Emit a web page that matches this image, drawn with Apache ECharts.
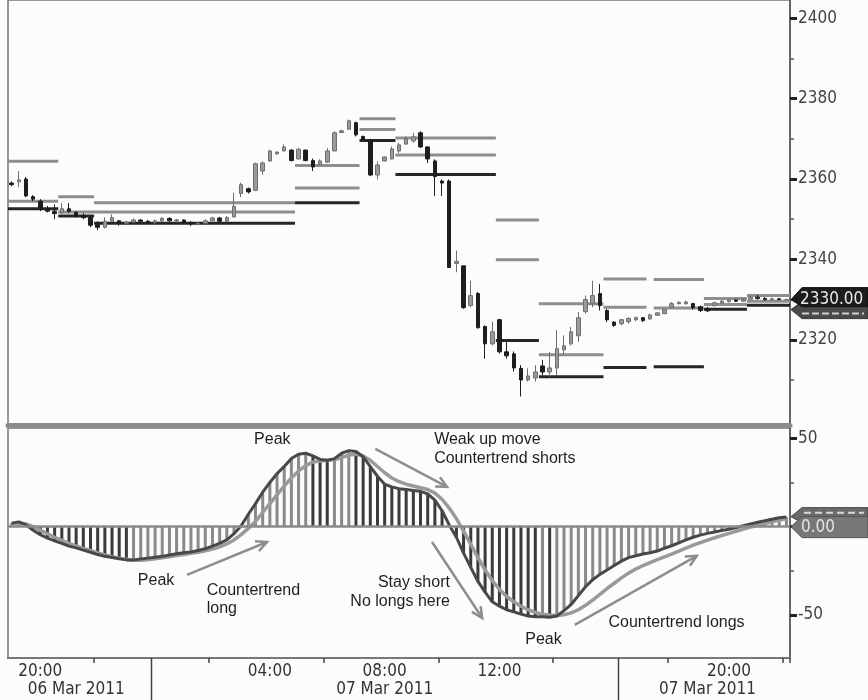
<!DOCTYPE html>
<html><head><meta charset="utf-8">
<script src="https://cdn.jsdelivr.net/npm/echarts@6/dist/echarts.min.js"></script>
<style>html,body{margin:0;padding:0;background:#fcfcfc}#c{width:868px;height:700px}</style>
</head><body><div id="c"></div>
<script>
// ---------- DATA ----------
// 15-minute bars from 06 Mar 2011 19:00 to 07 Mar 2011 22:00
const categories = [];
for (let i = 0; i < 109; i++) {
  const m = 19 * 60 + 15 * i;
  const day = 6 + Math.floor(m / 1440);
  const hh = Math.floor((m % 1440) / 60), mm = m % 60;
  categories.push('2011-03-0' + day + ' ' + String(hh).padStart(2, '0') + ':' + String(mm).padStart(2, '0'));
}
const timeLabels = ['20:00', '04:00', '08:00', '12:00'];
const timeTicks = ['22:00', '02:00', '06:00', '10:00', '14:00', '18:00'];
const sessionBreaks = ['2011-03-07 00:00', '2011-03-07 16:15'];
const dateLabels = {'2011-03-06 21:15': '06 Mar 2011', '2011-03-07 08:00': '07 Mar 2011', '2011-03-07 19:15': '07 Mar 2011'};
const priceLabels = [2320, 2340, 2360, 2380, 2400];
const priceMinor = [2310, 2330, 2350, 2370, 2390];
const oscLabels = [-50, 50];
const oscMajor = [-50, 0, 50];
const oscMinor = [-25, 25];
const lastPrice = 2330.00;
const lastOsc = 0.00;

// [open, close, low, high]
const candles = [
[2359,2358.6,2358.2,2359.4],[2359.3,2359.8,2358,2362],[2360,2355.8,2355.5,2360.5],[2355.6,2355,2354.5,2356],
[2354.5,2352.5,2352,2355],[2352.6,2352,2351.7,2353.3],[2352,2351.4,2350,2353.7],[2351.6,2352.6,2351.3,2354],
[2352.6,2352,2351.5,2354],[2351.7,2350.8,2350.4,2352],[2350.9,2350.4,2350,2351.5],[2350.4,2348.5,2348,2350.8],
[2348.6,2348,2347.3,2349.5],[2348,2349.5,2347.7,2350.5],[2349.5,2350.4,2349.2,2351.2],[2349.6,2349,2348.4,2349.8],
[2349,2349.3,2348.8,2349.6],[2349.3,2349.8,2349,2350.2],[2349.8,2349.5,2349.1,2350],[2349.5,2349.2,2348.9,2349.8],
[2349.2,2349.6,2348.8,2349.9],[2349.6,2350.2,2349.3,2350.5],[2350.2,2349.6,2349.4,2350.5],[2349.6,2349.8,2349.2,2350.1],
[2349.8,2349.2,2348.8,2350],[2349.2,2348.8,2348.3,2349.5],[2348.8,2349,2348.5,2349.3],[2349,2349.6,2348.8,2350],
[2349.6,2350.3,2349.4,2350.6],[2350.3,2349.5,2349.2,2350.6],[2349.5,2350.4,2349.3,2350.8],[2350.6,2353.2,2350.4,2356.6],
[2356.4,2358.6,2355.5,2359.1],[2357.6,2356.8,2356.4,2357.9],[2357.2,2363.8,2357,2364.1],[2362,2364,2361.1,2364.4],
[2364.5,2367,2364.3,2367.3],[2366.3,2366.7,2366,2366.9],[2367,2368,2366.9,2368.6],[2367.2,2364.6,2364.4,2367.4],
[2365,2367.4,2364.9,2367.8],[2367.2,2364.6,2364.4,2367.3],[2364.6,2363,2362,2365.1],[2363.6,2364.5,2363.4,2364.9],
[2364.2,2367,2364,2367.7],[2367,2371.5,2366.9,2371.9],[2371.6,2372,2371.4,2372.3],[2372.4,2374.5,2372.3,2374.8],
[2374,2371,2370.6,2374.3],[2370.6,2369.8,2369.4,2370.8],[2369.8,2361,2360.7,2370],[2361,2363.5,2359.9,2364.4],
[2364.5,2365.5,2364.4,2365.7],[2365,2367.5,2364.9,2368.1],[2367,2368.5,2366.5,2369],[2368.7,2370,2368.6,2370.6],
[2369.5,2370.5,2369,2371.5],[2371.5,2368,2367.7,2371.9],[2368,2365,2364,2368.1],[2364.5,2360.6,2355.8,2364.9],
[2359.5,2359,2355.8,2359.9],[2359.5,2338,2338,2359.9],[2339,2339.5,2336.8,2342.2],[2338.4,2328,2327.7,2338.4],
[2328.5,2331,2328.1,2334.7],[2331.5,2323,2322.8,2331.9],[2323.3,2319,2315.3,2323.6],[2319,2322,2318.6,2324.5],
[2325,2317,2316.6,2325.2],[2317,2316,2315.3,2319.5],[2316.5,2313,2312.1,2317.1],[2312.9,2310,2305.9,2313.7],
[2310,2311,2309.6,2312.9],[2310.5,2312,2309.6,2313.7],[2313.5,2312,2311.2,2315],[2312,2313,2310.8,2317],
[2313,2317.8,2311.2,2322.4],[2317.5,2318.5,2316.2,2321.1],[2319,2322,2318.6,2323.2],[2321,2325.5,2319.5,2326.9],
[2327,2330,2326.5,2331],[2329,2331,2328.1,2334.7],[2331.5,2328.5,2327.3,2333.9],[2327.3,2325,2324.4,2327.7],
[2324.4,2323.6,2323.2,2324.6],[2324,2325,2323.6,2325.2],[2324.5,2325.3,2324,2325.6],[2325,2325.5,2324.6,2325.8],
[2325.5,2324.8,2324.4,2325.6],[2325.2,2326.2,2325,2326.5],[2326.1,2326.7,2326,2326.9],[2326.5,2327.5,2326.4,2327.7],
[2328.1,2329,2328,2329.4],[2329,2329.3,2328.8,2329.6],[2329,2329.4,2328.7,2329.7],[2329,2328,2327.5,2329.2],
[2328.2,2327.3,2326.9,2328.5],[2327.8,2327.2,2326.9,2328.2],[2328.5,2329.2,2328.3,2329.5],[2329.2,2329.6,2329,2329.9],
[2329.5,2329.9,2329.3,2330.1],[2329.9,2329.6,2329.4,2330.2],[2329.6,2330.1,2329.5,2330.4],[2330.1,2330.6,2330,2331],
[2330.6,2330.3,2330,2331.2],[2330.3,2330,2329.8,2330.6],[2330,2330.2,2329.8,2330.5],[2330.2,2330,2329.9,2330.4],
[2330,2330,2329.9,2330.2]
];

// reference levels [firstBar, lastBar, price]
const levelsGray = [
[0,6,2364.4],[0,6,2354.5],[7,11,2355.6],[7,39,2351.8],[12,39,2354.1],
[40,48,2363.4],[40,48,2357.8],[49,53,2375],[49,53,2372.3],[54,67,2370.2],[54,67,2366],
[68,73,2349.8],[68,73,2339.9],[74,82,2329],[74,82,2316.3],[83,88,2335.1],[83,88,2328.1],
[90,96,2335],[90,96,2327.9],[97,102,2330.3],[97,102,2328.8],[103,108,2331],[103,108,2329.6]
];
const levelsDark = [
[0,6,2352.6],[7,11,2350.8],[12,39,2349],[40,48,2354.1],[49,53,2369.6],[54,67,2361.1],
[68,73,2319.8],[74,82,2310.8],[83,88,2313.1],[90,96,2313.3],[97,102,2327.6],[103,108,2328.6]
];

const osc = [
2,2.7,1,-2,-4.5,-6.5,-8,-9.5,-11,-12,-13.3,-14.5,-15.8,-16.8,-17.5,-18.2,-18.8,-18.8,-18.3,-17.8,
-17.3,-16.8,-16,-15.3,-14.8,-14.3,-13.5,-12.5,-11,-9.5,-7.5,-4,0.5,7,13,19.5,25,30,34,38.5,
41,41.5,40,38,37.5,38.5,41.5,43,42.5,39.5,34,28.5,24,22.5,21.5,21,20.5,20,18.5,15,
9,1,-6,-15,-23,-31,-37,-42.5,-45,-47,-48.2,-49.5,-50.5,-51,-51,-51.2,-50.5,-47.5,-44,-39,
-34,-30,-27,-24.5,-22,-19.5,-17.5,-16.5,-15.5,-14.8,-13.8,-12.2,-10.8,-9.2,-7.5,-6,-4.8,-3.8,-3,-2.2,
-1.5,-0.5,0.5,1.5,2.5,3.3,4.2,5,5.5
];
const signal = [
1.5,2,1.5,0,-2,-4,-6,-7.8,-9.5,-11,-12.3,-13.5,-14.8,-16,-17,-17.8,-18.5,-19,-19,-18.7,
-18.2,-17.6,-17,-16.3,-15.7,-15.1,-14.5,-13.7,-12.7,-11.4,-9.8,-7.5,-4.5,-1,3,8,13,18,23,27.5,
31.5,34.5,36.5,37.2,37.5,38,39,40.5,41,40,37.5,34,30.5,27.5,25.5,24,23,22,21,19,
15.5,10.5,4.5,-2.5,-10,-17.5,-24.5,-30.5,-35.5,-39.5,-42.5,-45,-47,-48.5,-49.5,-50,-50.2,-49.8,-48.8,-47,
-44.5,-41.5,-38.3,-35,-32,-29,-26.3,-24,-22,-20.3,-18.7,-17.1,-15.5,-13.9,-12.2,-10.5,-9,-7.6,-6.3,-5,
-3.8,-2.6,-1.4,-0.3,0.8,1.8,2.8,3.8,4.6
];

// annotations in (bar, oscillator value) coordinates
const notes = [
['Peak', 33.8, 49.1, 'left'],
['Weak up move', 58.9, 49.1, 'left'],
['Countertrend shorts', 58.9, 38.3, 'left'],
['Peak', 17.6, -30.7, 'left'],
['Countertrend', 27.2, -36.4, 'left'],
['long', 27.2, -46.6, 'left'],
['Stay short', 61.1, -31.9, 'right'],
['No longs here', 61.1, -42.6, 'right'],
['Peak', 71.6, -64.1, 'left'],
['Countertrend longs', 83.2, -54.5, 'left']
];
const arrows = [
[24.45, -27.3, 35.6, -8.7],
[50.7, 44, 60.7, 22.5],
[58.6, -8.7, 65.6, -51.7],
[78.5, -55.6, 95.5, -16.5]
];

// ---------- CHART ----------
const W = 868, H = 700;
const G = {left: 8, right: 78};
const AX_FONT = '"DejaVu Sans Condensed", "DejaVu Sans", sans-serif';
const chart = echarts.init(document.getElementById('c'), null, {width: W, height: H});
const plain = function (v) { return String(v); };

function levelSeries(list, color) {
  return {
    type: 'custom', xAxisIndex: 0, yAxisIndex: 0, z: 1,
    encode: {x: [0, 1], y: 2},
    data: list,
    renderItem: function (params, api) {
      const s = api.value(0), e = api.value(1), v = api.value(2);
      const p1 = api.coord([s, v]), p2 = api.coord([e, v]);
      const bw = api.size([1, 0])[0];
      return {type: 'line', shape: {x1: p1[0] - bw / 2, y1: p1[1], x2: p2[0] + bw / 2, y2: p2[1]},
        style: {stroke: color, lineWidth: 3}};
    }
  };
}

const option = {
  animation: false,
  backgroundColor: '#fcfcfc',
  grid: [
    {left: G.left, right: G.right, top: 0, height: 425, show: true, borderColor: '#777', borderWidth: 1.5, backgroundColor: 'transparent', outerBoundsMode: 'none'},
    {left: G.left, right: G.right, top: 428, height: 230, show: true, borderColor: '#777', borderWidth: 1.5, backgroundColor: 'transparent', outerBoundsMode: 'none'}
  ],
  xAxis: [
    {type: 'category', gridIndex: 0, data: categories, position: 'bottom', boundaryGap: true,
      axisLine: {show: true, onZero: false, lineStyle: {color: '#8c8c8c', width: 5}},
      axisTick: {show: false}, axisLabel: {show: false}, splitLine: {show: false}},
    {type: 'category', gridIndex: 1, data: categories, position: 'bottom', boundaryGap: true,
      axisLine: {show: true, onZero: false, lineStyle: {color: '#777', width: 2}},
      axisTick: {show: true, length: 5, lineStyle: {color: '#444', width: 1.5},
        interval: function (i, v) { return timeTicks.indexOf(v.slice(11)) >= 0; }},
      axisLabel: {show: true, color: '#333', fontFamily: AX_FONT, fontSize: 17, margin: 5,
        interval: function (i, v) { return timeLabels.indexOf(v.slice(11)) >= 0; },
        formatter: function (v) { return v.slice(11); }},
      splitLine: {show: false}},
    {type: 'category', gridIndex: 1, data: categories, position: 'bottom', boundaryGap: true,
      axisLine: {show: false, onZero: false},
      axisTick: {show: false},
      axisLabel: {show: true, color: '#333', fontFamily: AX_FONT, fontSize: 17, margin: 23,
        interval: function (i, v) { return dateLabels[v] !== undefined; },
        formatter: function (v) { return dateLabels[v] || ''; }},
      splitLine: {show: false}},
    {type: 'value', gridIndex: 1, min: -0.5, max: 108.5, show: false, axisLine: {onZero: false}}
  ],
  yAxis: [
    {type: 'value', gridIndex: 0, position: 'right', min: 2298.8, max: 2404.55, scale: true,
      axisLine: {show: true, onZero: false, lineStyle: {color: '#555', width: 1.5}},
      axisTick: {show: true, customValues: priceMinor, length: 4, lineStyle: {color: '#555', width: 1.5}},
      axisLabel: {show: true, customValues: priceLabels, formatter: plain, color: '#444', fontFamily: AX_FONT, fontSize: 17, margin: 8},
      splitLine: {show: false}},
    {type: 'value', gridIndex: 0, position: 'right', min: 2298.8, max: 2404.55, scale: true,
      axisLine: {show: false, onZero: false},
      axisTick: {show: true, customValues: priceLabels, length: 7, lineStyle: {color: '#222', width: 3}},
      axisLabel: {show: false}, splitLine: {show: false}},
    {type: 'value', gridIndex: 1, position: 'right', min: -74.3, max: 55.8,
      axisLine: {show: true, onZero: false, lineStyle: {color: '#555', width: 1.5}},
      axisTick: {show: true, customValues: oscMinor, length: 4, lineStyle: {color: '#555', width: 1.5}},
      axisLabel: {show: true, customValues: oscLabels, formatter: plain, color: '#444', fontFamily: AX_FONT, fontSize: 17, margin: 8},
      splitLine: {show: false}},
    {type: 'value', gridIndex: 1, position: 'right', min: -74.3, max: 55.8,
      axisLine: {show: false, onZero: false},
      axisTick: {show: true, customValues: oscMajor, length: 7, lineStyle: {color: '#222', width: 3}},
      axisLabel: {show: false}, splitLine: {show: false}}
  ],
  series: [
    levelSeries(levelsGray, '#8e8e8e'),
    levelSeries(levelsDark, '#262626'),
    {type: 'candlestick', xAxisIndex: 0, yAxisIndex: 0, z: 3, barWidth: 4, data: candles,
      itemStyle: {color: '#9a9a9a', color0: '#1e1e1e', borderColor: '#6e6e6e', borderColor0: '#1e1e1e', borderWidth: 1}},
    {type: 'bar', xAxisIndex: 1, yAxisIndex: 2, data: osc, barWidth: 3, z: 2,
      itemStyle: {color: function (p) { const i = p.dataIndex; return (i > 0 && osc[i] < osc[i - 1]) ? '#3a3a3a' : '#8a8a8a'; }},
      markLine: {silent: true, symbol: 'none', label: {show: false}, lineStyle: {color: '#8a8a8a', width: 2.5, type: 'solid'},
        data: [{yAxis: 0}]}},
    {type: 'line', xAxisIndex: 1, yAxisIndex: 2, data: signal, symbol: 'none', z: 3,
      lineStyle: {color: '#9a9a9a', width: 3.5}},
    {type: 'line', xAxisIndex: 1, yAxisIndex: 2, data: osc, symbol: 'none', z: 4,
      lineStyle: {color: '#484848', width: 3}}
  ]
};
chart.setOption(option);

// ---------- annotations, session separators & value flags ----------
const px = function (v) { return chart.convertToPixel({xAxisIndex: 3}, v); };
const py = function (v) { return chart.convertToPixel({yAxisIndex: 2}, v); };
const pyPrice = function (v) { return chart.convertToPixel({yAxisIndex: 0}, v); };
const axisX = W - G.right;
const g = [];
const NOTE_FONT = '16px "Liberation Sans", Arial, sans-serif';
notes.forEach(function (n) {
  g.push({type: 'text', x: px(n[1]), y: py(n[2]), z: 50,
    style: {text: n[0], font: NOTE_FONT, fill: '#1e1e1e', textAlign: n[3], textVerticalAlign: 'middle'}});
});
arrows.forEach(function (a) {
  const x1 = px(a[0]), y1 = py(a[1]), x2 = px(a[2]), y2 = py(a[3]);
  const ang = Math.atan2(y2 - y1, x2 - x1), L = 12, s = 0.45;
  g.push({type: 'line', z: 49, shape: {x1: x1, y1: y1, x2: x2, y2: y2}, style: {stroke: '#8e8e8e', lineWidth: 2.5}});
  g.push({type: 'polyline', z: 49, shape: {points: [
      [x2 - L * Math.cos(ang - s), y2 - L * Math.sin(ang - s)], [x2, y2],
      [x2 - L * Math.cos(ang + s), y2 - L * Math.sin(ang + s)]]},
    style: {stroke: '#8e8e8e', lineWidth: 2.5, fill: null}});
});
// session separators in the time-axis area
const axisBottomY = py(-74.3);
sessionBreaks.forEach(function (b) {
  const xb = Math.round(px(categories.indexOf(b) - 0.5)) + 0.5;
  g.push({type: 'line', z: 40, shape: {x1: xb, y1: axisBottomY, x2: xb, y2: H}, style: {stroke: '#444', lineWidth: 1.5}});
});
function flag(yc, top, bot, fill, stroke) {
  return {type: 'polygon', z: 60, shape: {points: [[axisX + 1, yc], [axisX + 12, yc - top], [W, yc - top], [W, yc + bot], [axisX + 12, yc + bot]]},
    style: {fill: fill, stroke: stroke, lineWidth: 1}};
}
// price flag
const yp = pyPrice(lastPrice);
g.push(flag(yp + 10, 8, 9, '#4a4a4a', '#333'));
g.push({type: 'line', z: 61, shape: {x1: axisX + 12, y1: yp + 14, x2: W - 4, y2: yp + 14}, style: {stroke: '#cfcfcf', lineWidth: 2, lineDash: [7, 3]}});
g.push(flag(yp, 12, 7, '#1c1c1c', '#111'));
g.push({type: 'text', z: 62, x: axisX + 10, y: yp, style: {text: lastPrice.toFixed(2), font: '17px ' + AX_FONT, fill: '#e8e8e8', textAlign: 'left', textVerticalAlign: 'middle'}});
// oscillator flag
const yo = py(lastOsc);
g.push(flag(yo - 10, 9, 6, '#6a6a6a', '#444'));
g.push({type: 'line', z: 61, shape: {x1: axisX + 14, y1: yo - 14, x2: W - 4, y2: yo - 14}, style: {stroke: '#d8d8d8', lineWidth: 2, lineDash: [7, 4]}});
g.push(flag(yo, 10, 11, '#777', '#555'));
g.push({type: 'text', z: 62, x: axisX + 11, y: yo + 1, style: {text: lastOsc.toFixed(2), font: '17px ' + AX_FONT, fill: '#e4e4e4', textAlign: 'left', textVerticalAlign: 'middle'}});
chart.setOption({graphic: g});
</script>
</body></html>
